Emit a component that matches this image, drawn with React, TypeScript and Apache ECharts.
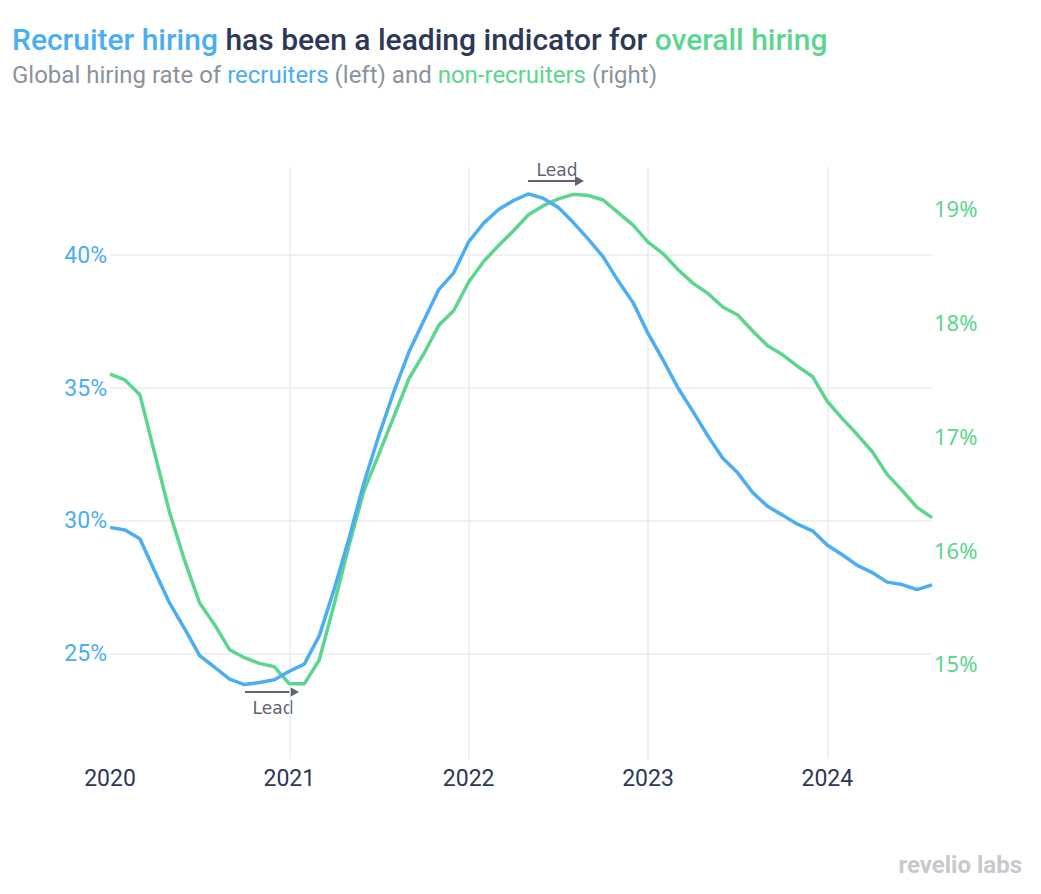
import React, { useEffect, useRef } from "react";
import * as echarts from "echarts";

const months: string[] = [];
for (let y = 2020; y <= 2024; y++) {
  for (let m = 1; m <= 12; m++) {
    if (y === 2024 && m > 8) break;
    months.push(`${y}-${String(m).padStart(2, "0")}`);
  }
}

const recruiters = [
  29.76, 29.66, 29.33, 28.1, 26.9, 25.94, 24.94, 24.5, 24.05, 23.85, 23.93, 24.03,
  24.35, 24.62, 25.68, 27.43, 29.36, 31.45, 33.23, 34.87, 36.35, 37.54, 38.7, 39.33,
  40.5, 41.2, 41.71, 42.05, 42.3, 42.13, 41.79, 41.22, 40.6, 39.93, 39.03, 38.21,
  37.05, 36.06, 35.01, 34.12, 33.2, 32.36, 31.81, 31.07, 30.55, 30.22, 29.88, 29.63,
  29.09, 28.73, 28.33, 28.06, 27.7, 27.61, 27.42, 27.6,
];

const nonRecruiters = [
  17.54, 17.49, 17.36, 16.84, 16.32, 15.9, 15.53, 15.34, 15.12, 15.05, 15.0, 14.97,
  14.82, 14.82, 15.03, 15.52, 16.04, 16.52, 16.84, 17.17, 17.5, 17.72, 17.97, 18.1,
  18.35, 18.53, 18.67, 18.8, 18.94, 19.02, 19.08, 19.12, 19.11, 19.07, 18.96, 18.85,
  18.7, 18.6, 18.46, 18.34, 18.25, 18.13, 18.06, 17.92, 17.79, 17.71, 17.61, 17.52,
  17.3, 17.15, 17.01, 16.86, 16.66, 16.52, 16.37, 16.28,
];

const leftTicks = [25, 30, 35, 40];
const rightTicks = [15, 16, 17, 18, 19];

const BLUE = "#4badf2";
const GREEN = "#5cd68e";
const NAVY = "#2b3857";
const GRAY = "#8a939c";
const FONT = "Roboto";

export default function App() {
  const ref = useRef<HTMLDivElement>(null);
  useEffect(() => {
    document.body.style.margin = "0";
    const chart = echarts.init(ref.current!, null, { renderer: "svg" });
    chart.setOption({
      animation: false,
      backgroundColor: "#ffffff",
      title: [
        {
          left: 12,
          top: 24,
          padding: 0,
          text: "{a|Recruiter hiring} {b|has been a leading indicator for} {c|overall hiring}",
          textStyle: {
            fontSize: 30,
            fontFamily: FONT,
            fontWeight: 500,
            color: NAVY,
            rich: {
              a: { color: BLUE, fontSize: 30, fontWeight: 500, fontFamily: FONT },
              b: { color: NAVY, fontSize: 30, fontWeight: 500, fontFamily: FONT },
              c: { color: GREEN, fontSize: 30, fontWeight: 500, fontFamily: FONT },
            },
          },
        },
        {
          left: 12,
          top: 63,
          padding: 0,
          text: "{g|Global hiring rate of} {b|recruiters} {g|(left) and} {c|non-recruiters} {g|(right)}",
          textStyle: {
            fontSize: 24,
            fontFamily: FONT,
            fontWeight: 400,
            color: GRAY,
            rich: {
              g: { color: GRAY, fontSize: 24, fontFamily: FONT },
              b: { color: BLUE, fontSize: 24, fontFamily: FONT },
              c: { color: GREEN, fontSize: 24, fontFamily: FONT },
            },
          },
        },
      ],
      grid: { left: 110, right: 109, top: 167, bottom: 135, containLabel: false },
      xAxis: {
        type: "category",
        data: months,
        boundaryGap: false,
        axisLine: { show: false },
        axisTick: { show: false },
        axisLabel: {
          interval: (i: number) => i % 12 === 0,
          formatter: (v: string) => v.slice(0, 4),
          color: NAVY,
          fontSize: 23,
          fontFamily: FONT,
          margin: 8,
        },
        splitLine: {
          show: true,
          interval: (i: number) => i % 12 === 0 && i > 0,
          lineStyle: { color: "#ebebf0", width: 1.5 },
        },
      },
      yAxis: [
        {
          type: "value",
          min: 21.05,
          max: 43.31,
          position: "left",
          axisLine: { show: false },
          axisTick: { show: false, customValues: leftTicks },
          axisLabel: {
            customValues: leftTicks,
            formatter: (v: number) => `${v}%`,
            color: BLUE,
            fontSize: 23,
            fontFamily: FONT,
            margin: 3,
          },
          splitLine: { show: true, lineStyle: { color: "#ebebf0", width: 1.5 } },
        },
        {
          type: "value",
          min: 14.16,
          max: 19.36,
          position: "right",
          axisLine: { show: false },
          axisTick: { show: false, customValues: rightTicks },
          axisLabel: {
            customValues: rightTicks,
            formatter: (v: number) => `${v}%`,
            color: GREEN,
            fontSize: 22,
            fontFamily: "Noto Sans",
            margin: 2,
          },
          splitLine: { show: false },
        },
      ],
      series: [
        {
          name: "Non-recruiters",
          type: "line",
          yAxisIndex: 1,
          data: nonRecruiters,
          showSymbol: false,
          lineStyle: { color: GREEN, width: 3.5 },
          itemStyle: { color: GREEN },
        },
        {
          name: "Recruiters",
          type: "line",
          yAxisIndex: 0,
          data: recruiters,
          showSymbol: false,
          lineStyle: { color: BLUE, width: 3.5 },
          itemStyle: { color: BLUE },
        },
      ],
      graphic: [
        {
          type: "text",
          x: 557,
          y: 170,
          style: {
            text: "Lead",
            fill: "#5d6373",
            fontSize: 17,
            fontFamily: "DejaVu Sans",
            align: "center",
            verticalAlign: "middle",
          },
        },
        {
          type: "line",
          shape: { x1: 528, y1: 181, x2: 577, y2: 181 },
          style: { stroke: "#5d6373", lineWidth: 2 },
        },
        {
          type: "polygon",
          shape: { points: [[575, 176], [584, 181], [575, 186]] },
          style: { fill: "#5d6373" },
        },
        {
          type: "text",
          x: 273,
          y: 708,
          style: {
            text: "Lead",
            fill: "#5d6373",
            fontSize: 17,
            fontFamily: "DejaVu Sans",
            align: "center",
            verticalAlign: "middle",
          },
        },
        {
          type: "line",
          shape: { x1: 245, y1: 692, x2: 292, y2: 692 },
          style: { stroke: "#5d6373", lineWidth: 2 },
        },
        {
          type: "polygon",
          shape: { points: [[290, 687], [299, 692], [290, 697]] },
          style: { fill: "#5d6373" },
        },
        {
          type: "text",
          x: 1022,
          y: 865,
          style: {
            text: "revelio labs",
            fill: "#c6c9ce",
            fontSize: 24,
            fontWeight: "bold",
            fontFamily: FONT,
            align: "right",
            verticalAlign: "middle",
          },
        },
      ],
    });
    return () => chart.dispose();
  }, []);
  return <div ref={ref} style={{ width: 1041, height: 894 }} />;
}
